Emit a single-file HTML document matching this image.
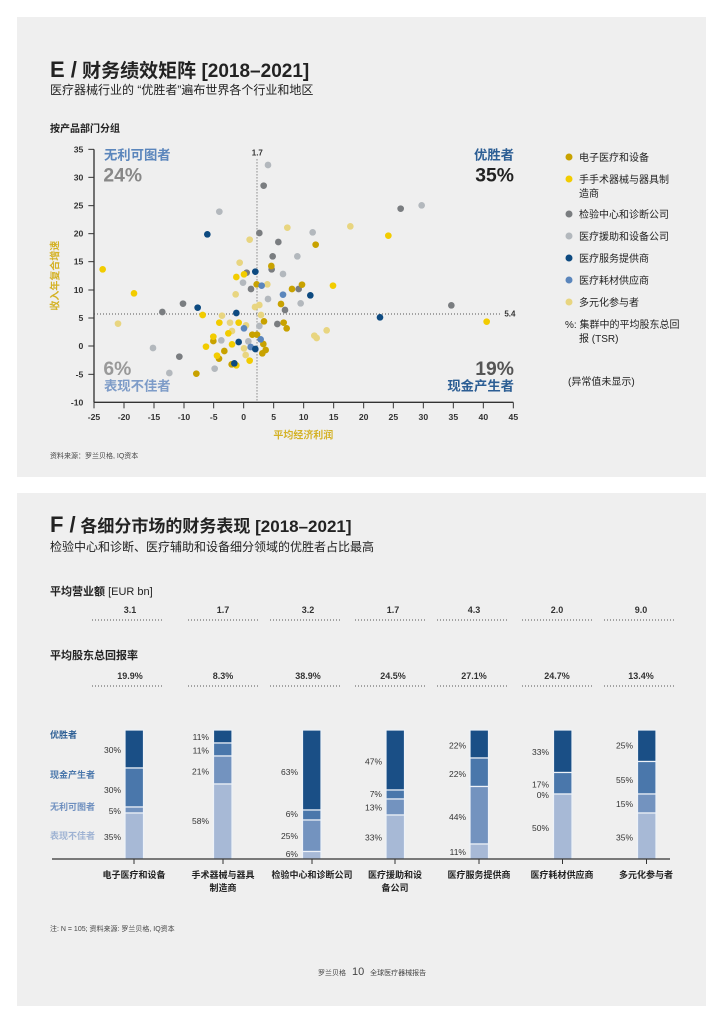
<!DOCTYPE html>
<html><head><meta charset="utf-8">
<style>
body{margin:0;width:724px;height:1024px;background:#fff;position:relative;font-family:"Liberation Sans","Noto Sans CJK SC",sans-serif;color:#222;overflow:hidden}
.panel{position:absolute;left:17px;width:689px;background:#efefef}
.t{position:absolute;white-space:nowrap}
.c{position:absolute;top:869px;font-size:9px;font-weight:bold;width:100px;text-align:center;line-height:13px;white-space:normal}
</style></head><body>
<div class="panel" style="top:17px;height:460px"></div>
<div class="panel" style="top:493px;height:513px"></div>

<div class="t" style="left:50px;top:56px;font-size:19px;font-weight:bold"><span style="font-size:22px">E /</span> 财务绩效矩阵 [2018–2021]</div>
<div class="t" style="left:50px;top:81px;font-size:12px">医疗器械行业的 “优胜者”遍布世界各个行业和地区</div>
<div class="t" style="left:50px;top:120px;font-size:10px;font-weight:bold">按产品部门分组</div>
<div class="t" style="left:50px;top:451px;font-size:7px;color:#444">资料来源：罗兰贝格, IQ资本</div>

<svg style="position:absolute;left:0;top:0" width="724" height="1024">
<g transform="translate(40,130) scale(0.33333)" font-family="Liberation Sans, Noto Sans CJK SC, sans-serif">
<line x1="162" y1="58" x2="162" y2="817" stroke="#333" stroke-width="4"/>
<line x1="162" y1="817" x2="1420" y2="817" stroke="#333" stroke-width="4"/>
<g font-size="26" font-weight="bold" fill="#333" text-anchor="end">
<text x="130" y="67">35</text><text x="130" y="151">30</text><text x="130" y="236">25</text><text x="130" y="320">20</text><text x="130" y="404">15</text><text x="130" y="489">10</text><text x="130" y="573">5</text><text x="130" y="657">0</text><text x="130" y="742">-5</text><text x="130" y="826">-10</text>
</g>
<g stroke="#333" stroke-width="3">
<line x1="145" y1="58" x2="162" y2="58"/><line x1="145" y1="142" x2="162" y2="142"/><line x1="145" y1="227" x2="162" y2="227"/><line x1="145" y1="311" x2="162" y2="311"/><line x1="145" y1="395" x2="162" y2="395"/><line x1="145" y1="480" x2="162" y2="480"/><line x1="145" y1="564" x2="162" y2="564"/><line x1="145" y1="648" x2="162" y2="648"/><line x1="145" y1="733" x2="162" y2="733"/>
<line x1="162" y1="817" x2="162" y2="835"/><line x1="252" y1="817" x2="252" y2="835"/><line x1="342" y1="817" x2="342" y2="835"/><line x1="432" y1="817" x2="432" y2="835"/><line x1="521" y1="817" x2="521" y2="835"/><line x1="611" y1="817" x2="611" y2="835"/><line x1="701" y1="817" x2="701" y2="835"/><line x1="791" y1="817" x2="791" y2="835"/><line x1="881" y1="817" x2="881" y2="835"/><line x1="971" y1="817" x2="971" y2="835"/><line x1="1060" y1="817" x2="1060" y2="835"/><line x1="1150" y1="817" x2="1150" y2="835"/><line x1="1240" y1="817" x2="1240" y2="835"/><line x1="1330" y1="817" x2="1330" y2="835"/><line x1="1420" y1="817" x2="1420" y2="835"/>
</g>
<g font-size="26" font-weight="bold" fill="#333" text-anchor="middle">
<text x="162" y="870">-25</text><text x="252" y="870">-20</text><text x="342" y="870">-15</text><text x="432" y="870">-10</text><text x="521" y="870">-5</text><text x="611" y="870">0</text><text x="701" y="870">5</text><text x="791" y="870">10</text><text x="881" y="870">15</text><text x="971" y="870">20</text><text x="1060" y="870">25</text><text x="1150" y="870">30</text><text x="1240" y="870">35</text><text x="1330" y="870">40</text><text x="1420" y="870">45</text>
</g>
<line x1="651" y1="88" x2="651" y2="817" stroke="#555" stroke-width="3" stroke-dasharray="3,6"/>
<line x1="162" y1="552" x2="1385" y2="552" stroke="#555" stroke-width="3" stroke-dasharray="3,6"/>
<text x="652" y="76" font-size="24" font-weight="bold" fill="#333" text-anchor="middle">1.7</text>
<text x="1393" y="559" font-size="24" font-weight="bold" fill="#333">5.4</text>
<text x="790" y="925" font-size="30" font-weight="bold" fill="#d4b226" text-anchor="middle">平均经济利润</text>
<text transform="translate(56,437) rotate(-90)" font-size="30" font-weight="bold" fill="#d4b226" text-anchor="middle">收入年复合增速</text>
<text x="192" y="88" font-size="40" font-weight="bold" fill="#5b86bc">无利可图者</text>
<text x="190" y="155" font-size="58" font-weight="bold" fill="#888">24%</text>
<text x="1422" y="88" font-size="40" font-weight="bold" fill="#2c5e94" text-anchor="end">优胜者</text>
<text x="1422" y="155" font-size="58" font-weight="bold" fill="#222" text-anchor="end">35%</text>
<text x="190" y="735" font-size="58" font-weight="bold" fill="#999">6%</text>
<text x="192" y="782" font-size="40" font-weight="bold" fill="#7e9cc8">表现不佳者</text>
<text x="1422" y="735" font-size="58" font-weight="bold" fill="#555" text-anchor="end">19%</text>
<text x="1422" y="782" font-size="40" font-weight="bold" fill="#2c5e94" text-anchor="end">现金产生者</text>
<g fill="#e8d580">
<circle cx="742" cy="293" r="10"/><circle cx="931" cy="289" r="10"/><circle cx="629" cy="329" r="10"/><circle cx="599" cy="398" r="10"/><circle cx="682" cy="463" r="10"/><circle cx="587" cy="493" r="10"/><circle cx="645" cy="531" r="10"/><circle cx="658" cy="525" r="10"/><circle cx="663" cy="555" r="10"/><circle cx="546" cy="557" r="10"/><circle cx="570" cy="578" r="10"/><circle cx="618" cy="586" r="10"/><circle cx="234" cy="581" r="10"/><circle cx="860" cy="601" r="10"/><circle cx="823" cy="617" r="10"/><circle cx="830" cy="624" r="10"/><circle cx="612" cy="655" r="10"/><circle cx="617" cy="675" r="10"/><circle cx="576" cy="603" r="10"/>
</g>
<g fill="#b3b8bd">
<circle cx="684" cy="105" r="10"/><circle cx="538" cy="245" r="10"/><circle cx="818" cy="307" r="10"/><circle cx="772" cy="379" r="10"/><circle cx="729" cy="432" r="10"/><circle cx="609" cy="458" r="10"/><circle cx="684" cy="507" r="10"/><circle cx="782" cy="520" r="10"/><circle cx="1145" cy="226" r="10"/><circle cx="339" cy="654" r="10"/><circle cx="388" cy="729" r="10"/><circle cx="524" cy="716" r="10"/><circle cx="544" cy="631" r="10"/><circle cx="625" cy="634" r="10"/><circle cx="658" cy="588" r="10"/>
</g>
<g fill="#7a7d80">
<circle cx="671" cy="167" r="10"/><circle cx="658" cy="309" r="10"/><circle cx="715" cy="336" r="10"/><circle cx="698" cy="379" r="10"/><circle cx="695" cy="418" r="10"/><circle cx="633" cy="477" r="10"/><circle cx="776" cy="477" r="10"/><circle cx="735" cy="540" r="10"/><circle cx="712" cy="582" r="10"/><circle cx="429" cy="521" r="10"/><circle cx="367" cy="546" r="10"/><circle cx="418" cy="680" r="10"/><circle cx="1082" cy="236" r="10"/><circle cx="1234" cy="526" r="10"/><circle cx="620" cy="428" r="10"/>
</g>
<g fill="#c8a200">
<circle cx="827" cy="344" r="10"/><circle cx="694" cy="408" r="10"/><circle cx="650" cy="463" r="10"/><circle cx="756" cy="477" r="10"/><circle cx="786" cy="464" r="10"/><circle cx="723" cy="522" r="10"/><circle cx="672" cy="574" r="10"/><circle cx="731" cy="578" r="10"/><circle cx="740" cy="595" r="10"/><circle cx="637" cy="614" r="10"/><circle cx="651" cy="614" r="10"/><circle cx="520" cy="633" r="10"/><circle cx="553" cy="663" r="10"/><circle cx="670" cy="642" r="10"/><circle cx="677" cy="660" r="10"/><circle cx="667" cy="670" r="10"/><circle cx="537" cy="686" r="10"/><circle cx="469" cy="731" r="10"/><circle cx="575" cy="703" r="10"/>
</g>
<g fill="#f2cc00">
<circle cx="188" cy="418" r="10"/><circle cx="282" cy="490" r="10"/><circle cx="589" cy="441" r="10"/><circle cx="612" cy="433" r="10"/><circle cx="879" cy="467" r="10"/><circle cx="1045" cy="317" r="10"/><circle cx="1340" cy="575" r="10"/><circle cx="488" cy="555" r="10"/><circle cx="538" cy="578" r="10"/><circle cx="596" cy="578" r="10"/><circle cx="520" cy="620" r="10"/><circle cx="565" cy="610" r="10"/><circle cx="576" cy="643" r="10"/><circle cx="498" cy="650" r="10"/><circle cx="531" cy="677" r="10"/><circle cx="629" cy="692" r="10"/><circle cx="589" cy="706" r="10"/>
</g>
<g fill="#5b86bc">
<circle cx="665" cy="467" r="10"/><circle cx="729" cy="494" r="10"/><circle cx="612" cy="595" r="10"/><circle cx="662" cy="628" r="10"/><circle cx="632" cy="651" r="10"/>
</g>
<g fill="#0d4a80">
<circle cx="502" cy="313" r="10"/><circle cx="646" cy="425" r="10"/><circle cx="589" cy="549" r="10"/><circle cx="473" cy="533" r="10"/><circle cx="811" cy="496" r="10"/><circle cx="1020" cy="562" r="10"/><circle cx="596" cy="636" r="10"/><circle cx="646" cy="657" r="10"/><circle cx="583" cy="700" r="10"/>
</g>
</g>

<g font-size="10" fill="#222" font-family="Liberation Sans, Noto Sans CJK SC, sans-serif">
<circle cx="569" cy="157" r="3.5" fill="#c8a200"/><text x="579" y="161">电子医疗和设备</text>
<circle cx="569" cy="179" r="3.5" fill="#f2cc00"/><text x="579" y="183">手手术器械与器具制</text><text x="579" y="197">造商</text>
<circle cx="569" cy="214" r="3.5" fill="#7a7d80"/><text x="579" y="218">检验中心和诊断公司</text>
<circle cx="569" cy="236" r="3.5" fill="#b3b8bd"/><text x="579" y="240">医疗援助和设备公司</text>
<circle cx="569" cy="258" r="3.5" fill="#0d4a80"/><text x="579" y="262">医疗服务提供商</text>
<circle cx="569" cy="280" r="3.5" fill="#5b86bc"/><text x="579" y="284">医疗耗材供应商</text>
<circle cx="569" cy="302" r="3.5" fill="#e8d580"/><text x="579" y="306">多元化参与者</text>
<text x="565" y="328">%: 集群中的平均股东总回</text><text x="579" y="342">报 (TSR)</text>
<text x="568" y="385">(异常值未显示)</text>
</g>

<g stroke="#555" stroke-width="1" stroke-dasharray="1,2">
<line x1="92" y1="620" x2="162" y2="620"/><line x1="188" y1="620" x2="258" y2="620"/><line x1="270" y1="620" x2="340" y2="620"/><line x1="355" y1="620" x2="425" y2="620"/><line x1="437" y1="620" x2="507" y2="620"/><line x1="522" y1="620" x2="592" y2="620"/><line x1="604" y1="620" x2="674" y2="620"/>
<line x1="92" y1="686" x2="162" y2="686"/><line x1="188" y1="686" x2="258" y2="686"/><line x1="270" y1="686" x2="340" y2="686"/><line x1="355" y1="686" x2="425" y2="686"/><line x1="437" y1="686" x2="507" y2="686"/><line x1="522" y1="686" x2="592" y2="686"/><line x1="604" y1="686" x2="674" y2="686"/>
</g>
<g font-size="9" font-weight="bold" fill="#333" text-anchor="middle" font-family="Liberation Sans, sans-serif">
<text x="130" y="613">3.1</text><text x="223" y="613">1.7</text><text x="308" y="613">3.2</text><text x="393" y="613">1.7</text><text x="474" y="613">4.3</text><text x="557" y="613">2.0</text><text x="641" y="613">9.0</text>
<text x="130" y="679">19.9%</text><text x="223" y="679">8.3%</text><text x="308" y="679">38.9%</text><text x="393" y="679">24.5%</text><text x="474" y="679">27.1%</text><text x="557" y="679">24.7%</text><text x="641" y="679">13.4%</text>
</g>

<g stroke="#eef2f8" stroke-width="1.2">
<rect x="125" y="730" width="18.5" height="38" fill="#1a4f86"/><rect x="125" y="768" width="18.5" height="39" fill="#4a77ab"/><rect x="125" y="807" width="18.5" height="6" fill="#7393bf"/><rect x="125" y="813" width="18.5" height="46" fill="#a7b9d6"/>
<rect x="213.5" y="730" width="18.5" height="13" fill="#1a4f86"/><rect x="213.5" y="743" width="18.5" height="13" fill="#4a77ab"/><rect x="213.5" y="756" width="18.5" height="28" fill="#7393bf"/><rect x="213.5" y="784" width="18.5" height="75" fill="#a7b9d6"/>
<rect x="302.5" y="730" width="18.5" height="80" fill="#1a4f86"/><rect x="302.5" y="810" width="18.5" height="10" fill="#4a77ab"/><rect x="302.5" y="820" width="18.5" height="31.5" fill="#7393bf"/><rect x="302.5" y="851.5" width="18.5" height="7.5" fill="#a7b9d6"/>
<rect x="386" y="730" width="18.5" height="60" fill="#1a4f86"/><rect x="386" y="790" width="18.5" height="9" fill="#4a77ab"/><rect x="386" y="799" width="18.5" height="16" fill="#7393bf"/><rect x="386" y="815" width="18.5" height="44" fill="#a7b9d6"/>
<rect x="470" y="730" width="18.5" height="28" fill="#1a4f86"/><rect x="470" y="758" width="18.5" height="28.5" fill="#4a77ab"/><rect x="470" y="786.5" width="18.5" height="57.5" fill="#7393bf"/><rect x="470" y="844" width="18.5" height="15" fill="#a7b9d6"/>
<rect x="553.5" y="730" width="18.5" height="42.5" fill="#1a4f86"/><rect x="553.5" y="772.5" width="18.5" height="21.5" fill="#4a77ab"/><rect x="553.5" y="794" width="18.5" height="65" fill="#a7b9d6"/>
<rect x="637.5" y="730" width="18.5" height="31.5" fill="#1a4f86"/><rect x="637.5" y="761.5" width="18.5" height="32.5" fill="#4a77ab"/><rect x="637.5" y="794" width="18.5" height="19" fill="#7393bf"/><rect x="637.5" y="813" width="18.5" height="46" fill="#a7b9d6"/>
</g>
<line x1="52" y1="859" x2="670" y2="859" stroke="#333" stroke-width="1.2"/>
<g stroke="#333"><line x1="134" y1="859" x2="134" y2="864"/><line x1="223" y1="859" x2="223" y2="864"/><line x1="312" y1="859" x2="312" y2="864"/><line x1="395" y1="859" x2="395" y2="864"/><line x1="479" y1="859" x2="479" y2="864"/><line x1="562.5" y1="859" x2="562.5" y2="864"/><line x1="646.5" y1="859" x2="646.5" y2="864"/></g>
<g font-size="8.5" fill="#333" text-anchor="end" font-family="Liberation Sans, sans-serif">
<text x="121" y="753">30%</text><text x="121" y="793">30%</text><text x="121" y="814">5%</text><text x="121" y="840">35%</text>
<text x="209" y="740">11%</text><text x="209" y="753.5">11%</text><text x="209" y="774.5">21%</text><text x="209" y="824">58%</text>
<text x="298" y="775">63%</text><text x="298" y="817">6%</text><text x="298" y="839">25%</text><text x="298" y="857">6%</text>
<text x="382" y="764.5">47%</text><text x="382" y="797">7%</text><text x="382" y="810.5">13%</text><text x="382" y="840.5">33%</text>
<text x="466" y="748.5">22%</text><text x="466" y="777">22%</text><text x="466" y="820">44%</text><text x="466" y="855">11%</text>
<text x="549" y="755">33%</text><text x="549" y="787.5">17%</text><text x="549" y="798">0%</text><text x="549" y="831">50%</text>
<text x="633" y="748.5">25%</text><text x="633" y="783">55%</text><text x="633" y="807">15%</text><text x="633" y="840.5">35%</text>
</g>
</svg>

<div class="t" style="left:50px;top:512px;font-size:17px;font-weight:bold"><span style="font-size:22px">F /</span> 各细分市场的财务表现 [2018–2021]</div>
<div class="t" style="left:50px;top:538px;font-size:12px">检验中心和诊断、医疗辅助和设备细分领域的优胜者占比最高</div>
<div class="t" style="left:50px;top:583px;font-size:11px;font-weight:bold">平均营业额 <span style="font-weight:normal">[EUR bn]</span></div>
<div class="t" style="left:50px;top:647px;font-size:11px;font-weight:bold">平均股东总回报率</div>
<div class="t" style="left:50px;top:728px;font-size:9px;font-weight:bold;color:#2c5e94">优胜者</div>
<div class="t" style="left:50px;top:768px;font-size:9px;font-weight:bold;color:#4a77ab">现金产生者</div>
<div class="t" style="left:50px;top:800px;font-size:9px;font-weight:bold;color:#6e8fbf">无利可图者</div>
<div class="t" style="left:50px;top:829px;font-size:9px;font-weight:bold;color:#9fb3d3">表现不佳者</div>
<div class="c" style="left:84px">电子医疗和设备</div>
<div class="c" style="left:173px">手术器械与器具<br>制造商</div>
<div class="c" style="left:262px">检验中心和诊断公司</div>
<div class="c" style="left:345px">医疗援助和设<br>备公司</div>
<div class="c" style="left:429px">医疗服务提供商</div>
<div class="c" style="left:512px">医疗耗材供应商</div>
<div class="c" style="left:596px">多元化参与者</div>
<div class="t" style="left:50px;top:924px;font-size:7px;color:#444">注: N = 105; 资料来源: 罗兰贝格, IQ资本</div>
<div class="t" style="left:318px;top:966px;font-size:7px;color:#444">罗兰贝格 <span style="font-size:11px;margin:0 4px">10</span> 全球医疗器械报告</div>
</body></html>
